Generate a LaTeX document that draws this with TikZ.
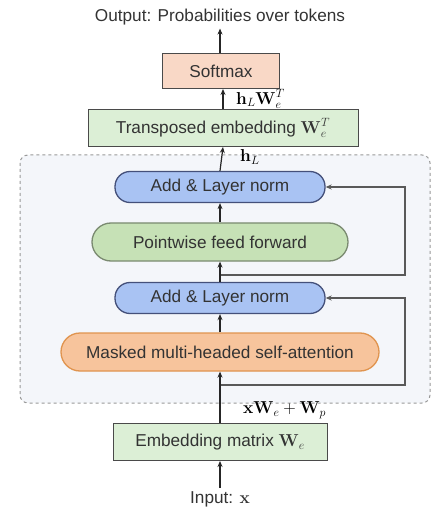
\documentclass[tikz,border=0pt]{standalone}
\usepackage[no-math]{fontspec}
\newfontfamily\arialf{Liberation Sans}
\usetikzlibrary{arrows.meta}
\definecolor{softfill}{HTML}{F9D8C6}
\definecolor{greenfill}{HTML}{DCEFD6}
\definecolor{lnfill}{HTML}{A9C3F3}
\definecolor{lndraw}{HTML}{44507A}
\definecolor{fffill}{HTML}{C6E1B6}
\definecolor{ffdraw}{HTML}{7A8A70}
\definecolor{attfill}{HTML}{F7C49C}
\definecolor{attdraw}{HTML}{E0944F}
\definecolor{blockfill}{HTML}{F4F6FA}
\definecolor{boxdraw}{HTML}{4A4A4A}
\tikzset{
  txt/.style={font=\arialf\fontsize{17.2}{20}\selectfont, text=black!80},
  rectbox/.style={txt, draw=boxdraw, line width=1pt, minimum height=#1, inner sep=0pt},
  pill/.style={txt, line width=1.3pt, inner sep=0pt, rounded corners=15pt},
  flow/.style={draw=black!85, line width=1.2pt, -{Stealth[length=6pt,width=5pt]}},
  res/.style={draw=black!65, line width=1.6pt, -{Stealth[length=6pt,width=5pt]}},
  lab/.style={font=\fontsize{18}{21}\selectfont, anchor=west, inner sep=0pt}
}
\begin{document}
\begin{tikzpicture}[x=1pt,y=-1pt]
\useasboundingbox (0,0) rectangle (436,510);
% block background
\draw[dashed, draw=black!40, fill=blockfill, line width=1pt, rounded corners=8pt] (20,155) rectangle (430,403);
% nodes
\node[txt] (out) at (220,17) {Output: Probabilities over tokens};
\node[rectbox=35pt, fill=softfill, minimum width=117pt] (soft) at (221,71) {Softmax};
\node[rectbox=37pt, fill=greenfill, minimum width=270pt] (trans) at (223,128) {Transposed embedding $\mathbf{W}_e^{T}$};
\node[pill, draw=lndraw, fill=lnfill, minimum width=210pt, minimum height=31pt] (ln2) at (220,187) {Add \& Layer norm};
\node[pill, draw=ffdraw, fill=fffill, minimum width=256pt, minimum height=38pt, rounded corners=19pt] (ff) at (220,242) {Pointwise feed forward};
\node[pill, draw=lndraw, fill=lnfill, minimum width=210pt, minimum height=31pt] (ln1) at (220,298) {Add \& Layer norm};
\node[pill, draw=attdraw, fill=attfill, minimum width=318pt, minimum height=38pt, rounded corners=19pt] (att) at (220,352) {Masked multi-headed self-attention};
\node[rectbox=37pt, fill=greenfill, minimum width=214pt] (emb) at (220,442) {Embedding matrix $\mathbf{W}_e$};
\node[txt] (in) at (220,499) {Input: $\mathbf{x}$};
% junction coordinates
\coordinate (j1) at (220,385);
\coordinate (j2) at (220,275);
\coordinate (rx) at (405,0);
% residual connections
\draw[res] (j1) -- (j1 -| rx) |- (ln1.east);
\draw[res] (j2) -- (j2 -| rx) |- (ln2.east);
% main flow
\draw[flow] (in) -- (emb.south);
\draw[flow] (emb.north) -- (att.south);
\draw[flow] (att.north) -- (ln1.south);
\draw[flow] (ln1.north) -- (ff.south);
\draw[flow] (ff.north) -- (ln2.south);
\draw[flow] (ln2.north) -- (trans.south);
\draw[flow] (trans.north) -- (soft.south -| trans.north);
\draw[flow] (soft.north -| out.south) -- (out.south);
% labels
\node[lab] (l1) at (243,410) {$\mathbf{x}\mathbf{W}_e+\mathbf{W}_p$};
\node[lab] (l2) at (240,157) {$\mathbf{h}_L$};
\node[lab] (l3) at (236,99) {$\mathbf{h}_L\mathbf{W}_e^{T}$};
\end{tikzpicture}
\end{document}
